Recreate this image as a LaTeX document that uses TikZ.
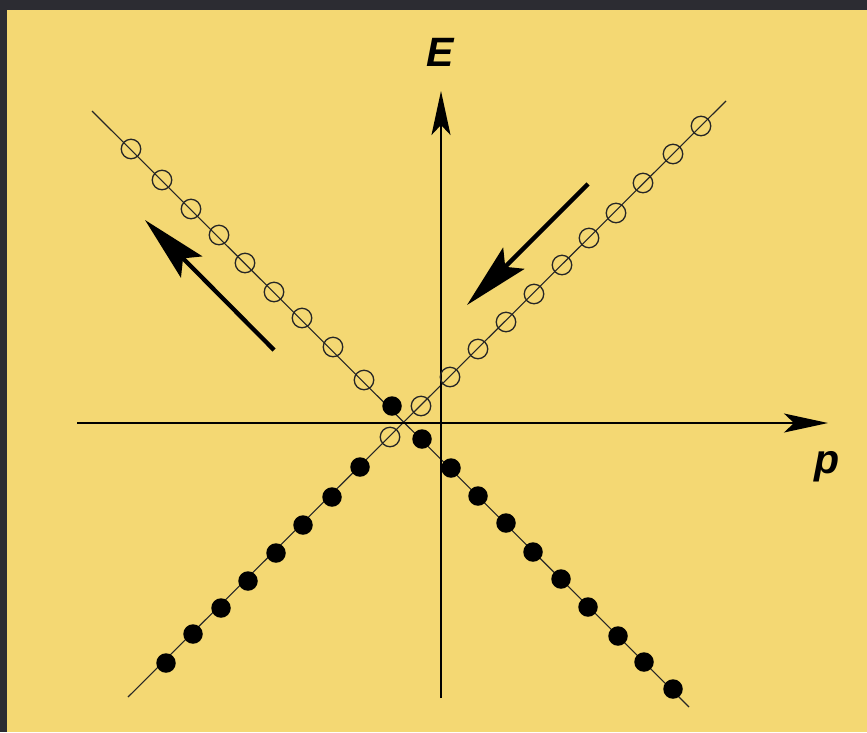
\documentclass[tikz,border=0pt]{standalone}
\usepackage{fontspec}
\setmainfont{Liberation Sans}
\usetikzlibrary{arrows.meta}
\definecolor{bgdark}{HTML}{2C2C32}
\definecolor{paper}{HTML}{F4D873}
\tikzset{
  thinline/.style={line width=1.1pt, black!85},
  axis/.style={line width=1.8pt, -{Stealth[length=44pt,width=19pt,inset=10pt]}},
  bigarrow/.style={line width=4.3pt, -{Stealth[length=66pt,width=30pt,inset=12pt]}},
  opendot/.style={circle, draw=black!85, line width=1.3pt, minimum size=19.5pt, inner sep=0pt},
  fulldot/.style={circle, fill=black, minimum size=19.5pt, inner sep=0pt},
  lab/.style={font=\fontsize{41}{44}\selectfont\bfseries\itshape, inner sep=0pt}
}
\begin{document}
\begin{tikzpicture}[x=1pt,y=-1pt]
\useasboundingbox (0,0) rectangle (867,732);
\fill[bgdark] (0,0) rectangle (867,732);
\fill[paper] (7,10) rectangle (867,732);
% diagonal lines
\coordinate (r1) at (128,697);
\coordinate (r2) at (726,101);
\coordinate (f1) at (92,111);
\coordinate (f2) at (689,707);
\draw[thinline] (r1) -- (r2);
\draw[thinline] (f1) -- (f2);
% axes
\coordinate (xl) at (77,423);
\coordinate (xr) at (828,423);
\coordinate (yb) at (441,698);
\coordinate (yt) at (441,91);
\draw[axis] (xl) -- (xr);
\draw[axis] (yb) -- (yt);
% open circles on rising line
\foreach \x/\y [count=\i] in {390/437,421/406,450/377,478/349,506/322,534/294,562/265,589/238,616/213,643/183,673/154,701/126}
  \node[opendot] (ro\i) at (\x,\y) {};
% filled circles on rising line
\foreach \x/\y [count=\i] in {360/467,332/497,303/525,276/553,248/581,221/608,193/634,166/663}
  \node[fulldot] (rf\i) at (\x,\y) {};
% open circles on falling line
\foreach \x/\y [count=\i] in {131/149,162/180,191/209,219/235,245/263,274/292,302/318,333/347,364/380}
  \node[opendot] (fo\i) at (\x,\y) {};
% filled circles on falling line
\foreach \x/\y [count=\i] in {392/406,422/439,451/468,478/496,506/523,533/552,561/579,588/607,618/636,644/662,673/689}
  \node[fulldot] (ff\i) at (\x,\y) {};
% big arrows
\coordinate (la1) at (274,350);
\coordinate (la2) at (145,220);
\coordinate (ra1) at (588,184);
\coordinate (ra2) at (467,305);
\draw[bigarrow] (la1) -- (la2);
\draw[bigarrow] (ra1) -- (ra2);
% labels
\node[lab, anchor=base] (E) at (440,66) {E};
\node[lab, anchor=base] (P) at (827,473) {p};
\end{tikzpicture}
\end{document}
